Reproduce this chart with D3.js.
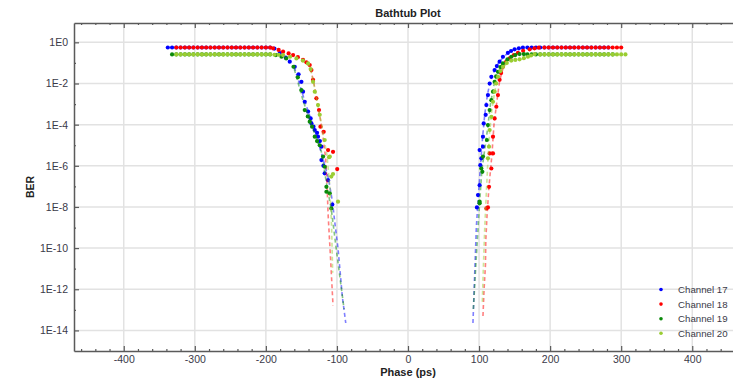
<!DOCTYPE html>
<html>
<head>
<meta charset="utf-8">
<script src="https://cdn.jsdelivr.net/npm/d3@7"></script>
<style>
  body { margin: 0; background: #fff; }
  svg { display: block; font-family: "Liberation Sans", Arial, sans-serif; }
</style>
</head>
<body>
<svg id="chart" width="733" height="381"></svg>
<script>
// ---- data ----
const channels = ['Channel 17', 'Channel 18', 'Channel 19', 'Channel 20'];
const xMajor = [-400, -300, -200, -100, 0, 100, 200, 300, 400];
const yMajor = [1e0, 1e-2, 1e-4, 1e-6, 1e-8, 1e-10, 1e-12, 1e-14];
const yMinor = [1e-1, 1e-3, 1e-5, 1e-7, 1e-9, 1e-11, 1e-13];

// BER level of the flat part of each curve
const plateauBer = [0.56, 0.56, 0.26, 0.26];

// phases (ps) of the flat-part samples
const ch17FlatLeft = [-338, -332, -326, -320, -314, -308, -302, -296, -290, -284, -278, -272, -266, -260, -254, -248, -242, -236, -230, -224, -218, -212, -206, -200, -194];
const ch18FlatLeft = [-326, -320, -314, -308, -302, -296, -290, -284, -278, -272, -266, -260, -254, -248, -242, -236, -230, -224, -218, -212, -206, -200, -194];
const ch19FlatLeft = [-332, -326, -320, -314, -308, -302, -296, -290, -284, -278, -272, -266, -260, -254, -248, -242, -236, -230, -224, -218, -212, -206, -200, -194];
const ch20FlatLeft = [-326, -320, -314, -308, -302, -296, -290, -284, -278, -272, -266, -260, -254, -248, -242, -236, -230, -224, -218, -212, -206, -200, -194];

const ch17FlatRight = [180, 186, 192, 198, 204, 210, 216, 222, 228, 234, 240, 246, 252, 258, 264, 270, 276, 282];
const ch18FlatRight = [192, 198, 204, 210, 216, 222, 228, 234, 240, 246, 252, 258, 264, 270, 276, 282, 288, 294, 300];
const ch19FlatRight = [168, 174, 180, 186, 192, 198, 204, 210, 216, 222, 228, 234, 240, 246, 252, 258, 264, 270, 276, 282, 288];
const ch20FlatRight = [186, 192, 198, 204, 210, 216, 222, 228, 234, 240, 246, 252, 258, 264, 270, 276, 282, 288, 294, 300, 306];

// [phase ps, BER] samples on the slopes
const ch17Left = [[-188, 5e-1], [-180.4, 3e-1], [-172, 1.8e-1], [-166.4, 1.15e-1], [-159.4, 6.5e-2], [-154, 2.8e-2], [-150, 1.2e-2], [-147.7, 4e-3], [-145.3, 1.3e-3], [-140.6, 4.3e-4], [-137, 2e-4], [-135.9, 1.15e-4], [-133, 8e-5], [-131.2, 5.5e-5], [-128, 4e-5], [-126.6, 2.6e-5], [-124, 1.6e-5], [-121.8, 8.5e-6], [-121.8, 1.9e-6], [-119, 1e-6], [-117.2, 4.3e-7], [-112.5, 2e-7], [-106.5, 1.3e-8]];
const ch18Left = [[-189.9, 5.1e-1], [-182, 4.3e-1], [-175.8, 3.5e-1], [-168, 2.9e-1], [-161.7, 2.4e-1], [-155, 1.9e-1], [-147.7, 1.4e-1], [-143, 1.07e-1], [-138.3, 7.9e-2], [-135.9, 4.5e-2], [-133.6, 1.5e-2], [-128.9, 1.9e-3], [-125.2, 5.1e-4], [-123.2, 8e-5], [-118.6, 4.5e-5], [-112.5, 5.8e-6], [-105.5, 4.8e-6], [-99.6, 6.9e-7]];
const ch19Left = [[-186, 2.4e-1], [-178, 2e-1], [-171.4, 1.66e-1], [-161.1, 6.5e-2], [-155, 2e-2], [-150, 4.8e-3], [-145.3, 5.1e-4], [-141, 2.5e-4], [-138.3, 1.4e-4], [-135, 8e-5], [-131.2, 2.6e-5], [-128, 1.6e-5], [-124.2, 1e-5], [-119.5, 2.8e-6], [-117.2, 9e-7], [-114.8, 9.5e-8], [-114.8, 5.5e-8], [-110.1, 4.6e-8], [-107.9, 8.5e-9]];
const ch20Left = [[-188, 2.5e-1], [-182, 2.5e-1], [-175.8, 2.4e-1], [-166, 2e-1], [-157, 1.66e-1], [-148, 1.3e-1], [-140.6, 9.5e-2], [-137, 5e-2], [-133.6, 1.2e-2], [-131.2, 4e-3], [-126.6, 8.9e-4], [-124.2, 3e-4], [-117.2, 1.8e-5], [-111.1, 2.6e-6], [-110.1, 2.8e-6], [-107.9, 3e-7], [-105.5, 4e-7], [-98.5, 1.8e-8]];

const ch17Right = [[97, 9.5e-9], [98.5, 3.8e-8], [100.8, 1.15e-7], [101.8, 1.07e-6], [103.2, 2.3e-6], [100.8, 5.8e-6], [105.5, 8.5e-6], [105.5, 2.6e-5], [106.5, 1.15e-4], [109.3, 3e-4], [110.3, 8.9e-4], [112.5, 2.75e-3], [114.9, 1e-2], [117.3, 2.1e-2], [121.9, 4.5e-2], [125, 7e-2], [128.9, 1.15e-1], [133.6, 2e-1], [140.6, 3.1e-1], [145, 3.8e-1], [150, 4.6e-1], [156, 5.1e-1], [161.7, 5.5e-1], [168, 5.6e-1], [174, 5.6e-1]];
const ch18Right = [[110.3, 8.5e-9], [112.5, 9.5e-9], [114, 9.5e-8], [117.3, 7.4e-7], [114.9, 4e-6], [119.6, 4e-6], [119.6, 2.6e-5], [121.9, 2e-4], [124.3, 7.4e-4], [126.6, 2.75e-3], [128.9, 1.5e-2], [131, 3.2e-2], [133.6, 6.5e-2], [138, 1.1e-1], [143, 1.66e-1], [149, 2.4e-1], [154.7, 3.1e-1], [162, 3.9e-1], [171.2, 4.6e-1], [178, 5.1e-1], [184, 5.5e-1]];
const ch19Right = [[100.8, 1.5e-8], [100.8, 1.8e-8], [103.2, 7.4e-7], [104.6, 5.1e-7], [105.5, 2.8e-6], [111.1, 1.8e-5], [112.5, 9.5e-5], [114.9, 5.1e-4], [117.3, 1.55e-3], [119.6, 4e-3], [121.9, 1.2e-2], [124, 2.2e-2], [126.6, 3.7e-2], [130, 6.3e-2], [133.6, 9.5e-2], [140, 1.5e-1], [145.4, 2e-1], [151, 2.4e-1], [157, 2.7e-1], [163, 2.7e-1]];
const ch20Right = [[112.5, 2.3e-6], [114, 8.5e-6], [114.9, 5.5e-5], [117.3, 2.4e-4], [119.6, 1.3e-3], [121.9, 4e-3], [124, 1e-2], [126.6, 2.1e-2], [130, 4e-2], [133.6, 6.5e-2], [139, 1e-1], [145.4, 1.3e-1], [151, 1.4e-1], [157, 1.5e-1], [163, 1.7e-1], [168.8, 2e-1], [173, 2.3e-1], [178.2, 2.7e-1]];

// dashed fitted curves, [phase ps, BER]
const ch17FitLeft = [[-160, 6.3e-2], [-145, 1.3e-3], [-132, 6.3e-5], [-120, 2.5e-6], [-112, 2.5e-7], [-106.3, 1.8e-8], [-102.3, 1.1e-9], [-98.5, 1e-10], [-92.4, 4.3e-13], [-87.6, 2.3e-14]];
const ch18FitLeft = [[-150, 1.6e-1], [-138, 7e-2], [-133, 1.3e-2], [-127, 1e-3], [-121, 6.3e-5], [-116, 2.5e-6], [-113.9, 1.4e-7], [-112.5, 4.9e-9], [-109, 3.2e-11], [-105.5, 1.6e-13]];
const ch19FitLeft = [[-160, 5e-2], [-148, 1.6e-3], [-135, 8e-5], [-122, 5e-6], [-114, 1e-7], [-108, 8e-9], [-100, 5e-11], [-90, 1.1e-13]];
const ch20FitLeft = [[-150, 1.4e-1], [-138, 7e-2], [-132, 8e-3], [-126, 6.3e-4], [-120, 5e-5], [-114, 3.2e-6], [-110, 1e-7], [-107.5, 1e-9], [-106, 6.3e-12]];

const ch17FitRight = [[91.4, 2.3e-14], [93.8, 4.9e-12], [96.2, 1.1e-9], [99, 3.2e-8], [102, 1e-6], [105, 2.5e-5], [108, 3.2e-4], [112, 3.2e-3], [118, 2.5e-2], [128, 1.1e-1], [140, 3e-1]];
const ch18FitRight = [[105.5, 5e-14], [107, 9.1e-13], [109, 1.5e-11], [109.5, 2.5e-10], [111.1, 3.3e-9], [114, 1e-7], [118, 3.2e-6], [121, 1e-4], [125, 1.3e-3], [129, 1.4e-2], [135, 7.9e-2], [145, 1.9e-1], [155, 3.2e-1]];
const ch19FitRight = [[92, 1.1e-13], [96, 3.2e-11], [100.8, 1.6e-8], [104, 6.3e-7], [108, 6.3e-6], [112, 6.3e-5], [116, 1e-3], [122, 1.3e-2], [133, 1e-1], [145, 2e-1]];
const ch20FitRight = [[104.6, 2.5e-13], [106, 1e-11], [108, 1e-9], [110, 3.2e-8], [112.5, 2e-6], [115, 5e-5], [118, 5e-4], [122, 4e-3], [128, 2.8e-2], [135, 7e-2], [145, 1.26e-1]];

const flatLeft = [ch17FlatLeft, ch18FlatLeft, ch19FlatLeft, ch20FlatLeft];
const flatRight = [ch17FlatRight, ch18FlatRight, ch19FlatRight, ch20FlatRight];
const slopeLeft = [ch17Left, ch18Left, ch19Left, ch20Left];
const slopeRight = [ch17Right, ch18Right, ch19Right, ch20Right];
const fitLeft = [ch17FitLeft, ch18FitLeft, ch19FitLeft, ch20FitLeft];
const fitRight = [ch17FitRight, ch18FitRight, ch19FitRight, ch20FitRight];

// ---- styling ----
const colors = ['#0000ff', '#ff0000', '#0a8a0a', '#9acd32'];
const plot = {left: 74, top: 23, right: 742, bottom: 351};
const axisColor = '#5a5a5a';
const textColor = '#3a3a48';

const svg = d3.select('#chart');

const x = d3.scaleLinear()
  .domain([-470, 470])
  .range([plot.left, plot.right]);

const y = d3.scaleLog()
  .domain([1e-15, Math.pow(10, 0.94)])
  .range([plot.bottom, plot.top]);

const xMinor = d3.range(-460, 461, 20).filter(v => v % 100 !== 0);

// grid
const grid = svg.append('g').attr('class', 'grid');
grid.selectAll('line.gx')
  .data(xMajor)
  .enter()
  .append('line')
  .attr('x1', d => x(d)).attr('x2', d => x(d))
  .attr('y1', plot.top).attr('y2', plot.bottom)
  .attr('stroke', '#e2e2e2').attr('stroke-width', 1.5);
grid.selectAll('line.gy')
  .data(yMajor)
  .enter()
  .append('line')
  .attr('x1', plot.left).attr('x2', plot.right)
  .attr('y1', d => y(d)).attr('y2', d => y(d))
  .attr('stroke', '#e2e2e2').attr('stroke-width', 1.5);

const styleAxis = g => {
  g.select('.domain').attr('stroke', axisColor).attr('stroke-width', 1.5);
  g.selectAll('.tick line').attr('stroke', axisColor).attr('stroke-width', 1.2);
  g.selectAll('.tick text')
    .attr('fill', textColor)
    .attr('font-family', '"Liberation Sans", Arial, sans-serif')
    .attr('font-size', 10.5);
};

// bottom axis
svg.append('g')
  .attr('transform', 'translate(0,' + plot.bottom + ')')
  .call(d3.axisBottom(x).tickValues(xMinor).tickSize(-2).tickSizeOuter(0).tickFormat(''))
  .call(g => g.select('.domain').remove())
  .call(styleAxis);
svg.append('g')
  .attr('transform', 'translate(0,' + plot.bottom + ')')
  .call(d3.axisBottom(x).tickValues(xMajor).tickSize(-5).tickSizeOuter(0).tickPadding(5)
    .tickFormat(d => String(d)))
  .call(styleAxis);

// top axis
svg.append('g')
  .attr('transform', 'translate(0,' + plot.top + ')')
  .call(d3.axisTop(x).tickValues(xMinor).tickSize(-2).tickSizeOuter(0).tickFormat(''))
  .call(g => g.select('.domain').remove())
  .call(styleAxis);
svg.append('g')
  .attr('transform', 'translate(0,' + plot.top + ')')
  .call(d3.axisTop(x).tickValues(xMajor).tickSize(-5).tickSizeOuter(0).tickFormat(''))
  .call(styleAxis);

// left axis
svg.append('g')
  .attr('transform', 'translate(' + plot.left + ',0)')
  .call(d3.axisLeft(y).tickValues(yMinor).tickSize(-2).tickSizeOuter(0).tickFormat(''))
  .call(g => g.select('.domain').remove())
  .call(styleAxis);
svg.append('g')
  .attr('transform', 'translate(' + plot.left + ',0)')
  .call(d3.axisLeft(y).tickValues(yMajor).tickSize(-5).tickSizeOuter(0).tickPadding(6)
    .tickFormat(d => '1E' + Math.round(Math.log10(d))))
  .call(styleAxis);

// titles
svg.append('text')
  .attr('x', 408).attr('y', 17)
  .attr('text-anchor', 'middle')
  .attr('font-weight', 'bold').attr('font-size', 11)
  .attr('fill', '#222')
  .text('Bathtub Plot');

svg.append('text')
  .attr('x', 408).attr('y', 376)
  .attr('text-anchor', 'middle')
  .attr('font-weight', 'bold').attr('font-size', 11)
  .attr('fill', '#222')
  .text('Phase (ps)');

svg.append('text')
  .attr('transform', 'translate(34,187) rotate(-90)')
  .attr('text-anchor', 'middle')
  .attr('font-weight', 'bold').attr('font-size', 10.5)
  .attr('fill', '#222')
  .text('BER');

// series
const line = d3.line()
  .x(d => x(d[0]))
  .y(d => y(d[1]));

const seriesGroup = svg.append('g');

channels.forEach((name, i) => {
  const g = seriesGroup.append('g').attr('class', 'series');
  const points = []
    .concat(flatLeft[i].map(p => [p, plateauBer[i]]))
    .concat(slopeLeft[i])
    .concat(slopeRight[i])
    .concat(flatRight[i].map(p => [p, plateauBer[i]]));

  [fitLeft[i], fitRight[i]].forEach(fit => {
    g.append('path')
      .datum(fit)
      .attr('d', line)
      .attr('fill', 'none')
      .attr('stroke', colors[i])
      .attr('stroke-opacity', 0.5)
      .attr('stroke-width', 1.6)
      .attr('stroke-dasharray', '4,3');
  });

  g.selectAll('circle')
    .data(points)
    .enter()
    .append('circle')
    .attr('cx', d => x(d[0]))
    .attr('cy', d => y(d[1]))
    .attr('r', 2.1)
    .attr('fill', colors[i]);
});

// legend
const legend = svg.append('g')
  .selectAll('g')
  .data(channels)
  .enter()
  .append('g')
  .attr('transform', (d, i) => 'translate(661,' + (289.5 + i * 14.6) + ')');

legend.append('circle')
  .attr('r', 1.8)
  .attr('fill', (d, i) => colors[i]);

legend.append('text')
  .attr('x', 17)
  .attr('dy', '0.35em')
  .attr('font-size', 9.7)
  .attr('fill', textColor)
  .text(d => d);
</script>
</body>
</html>
